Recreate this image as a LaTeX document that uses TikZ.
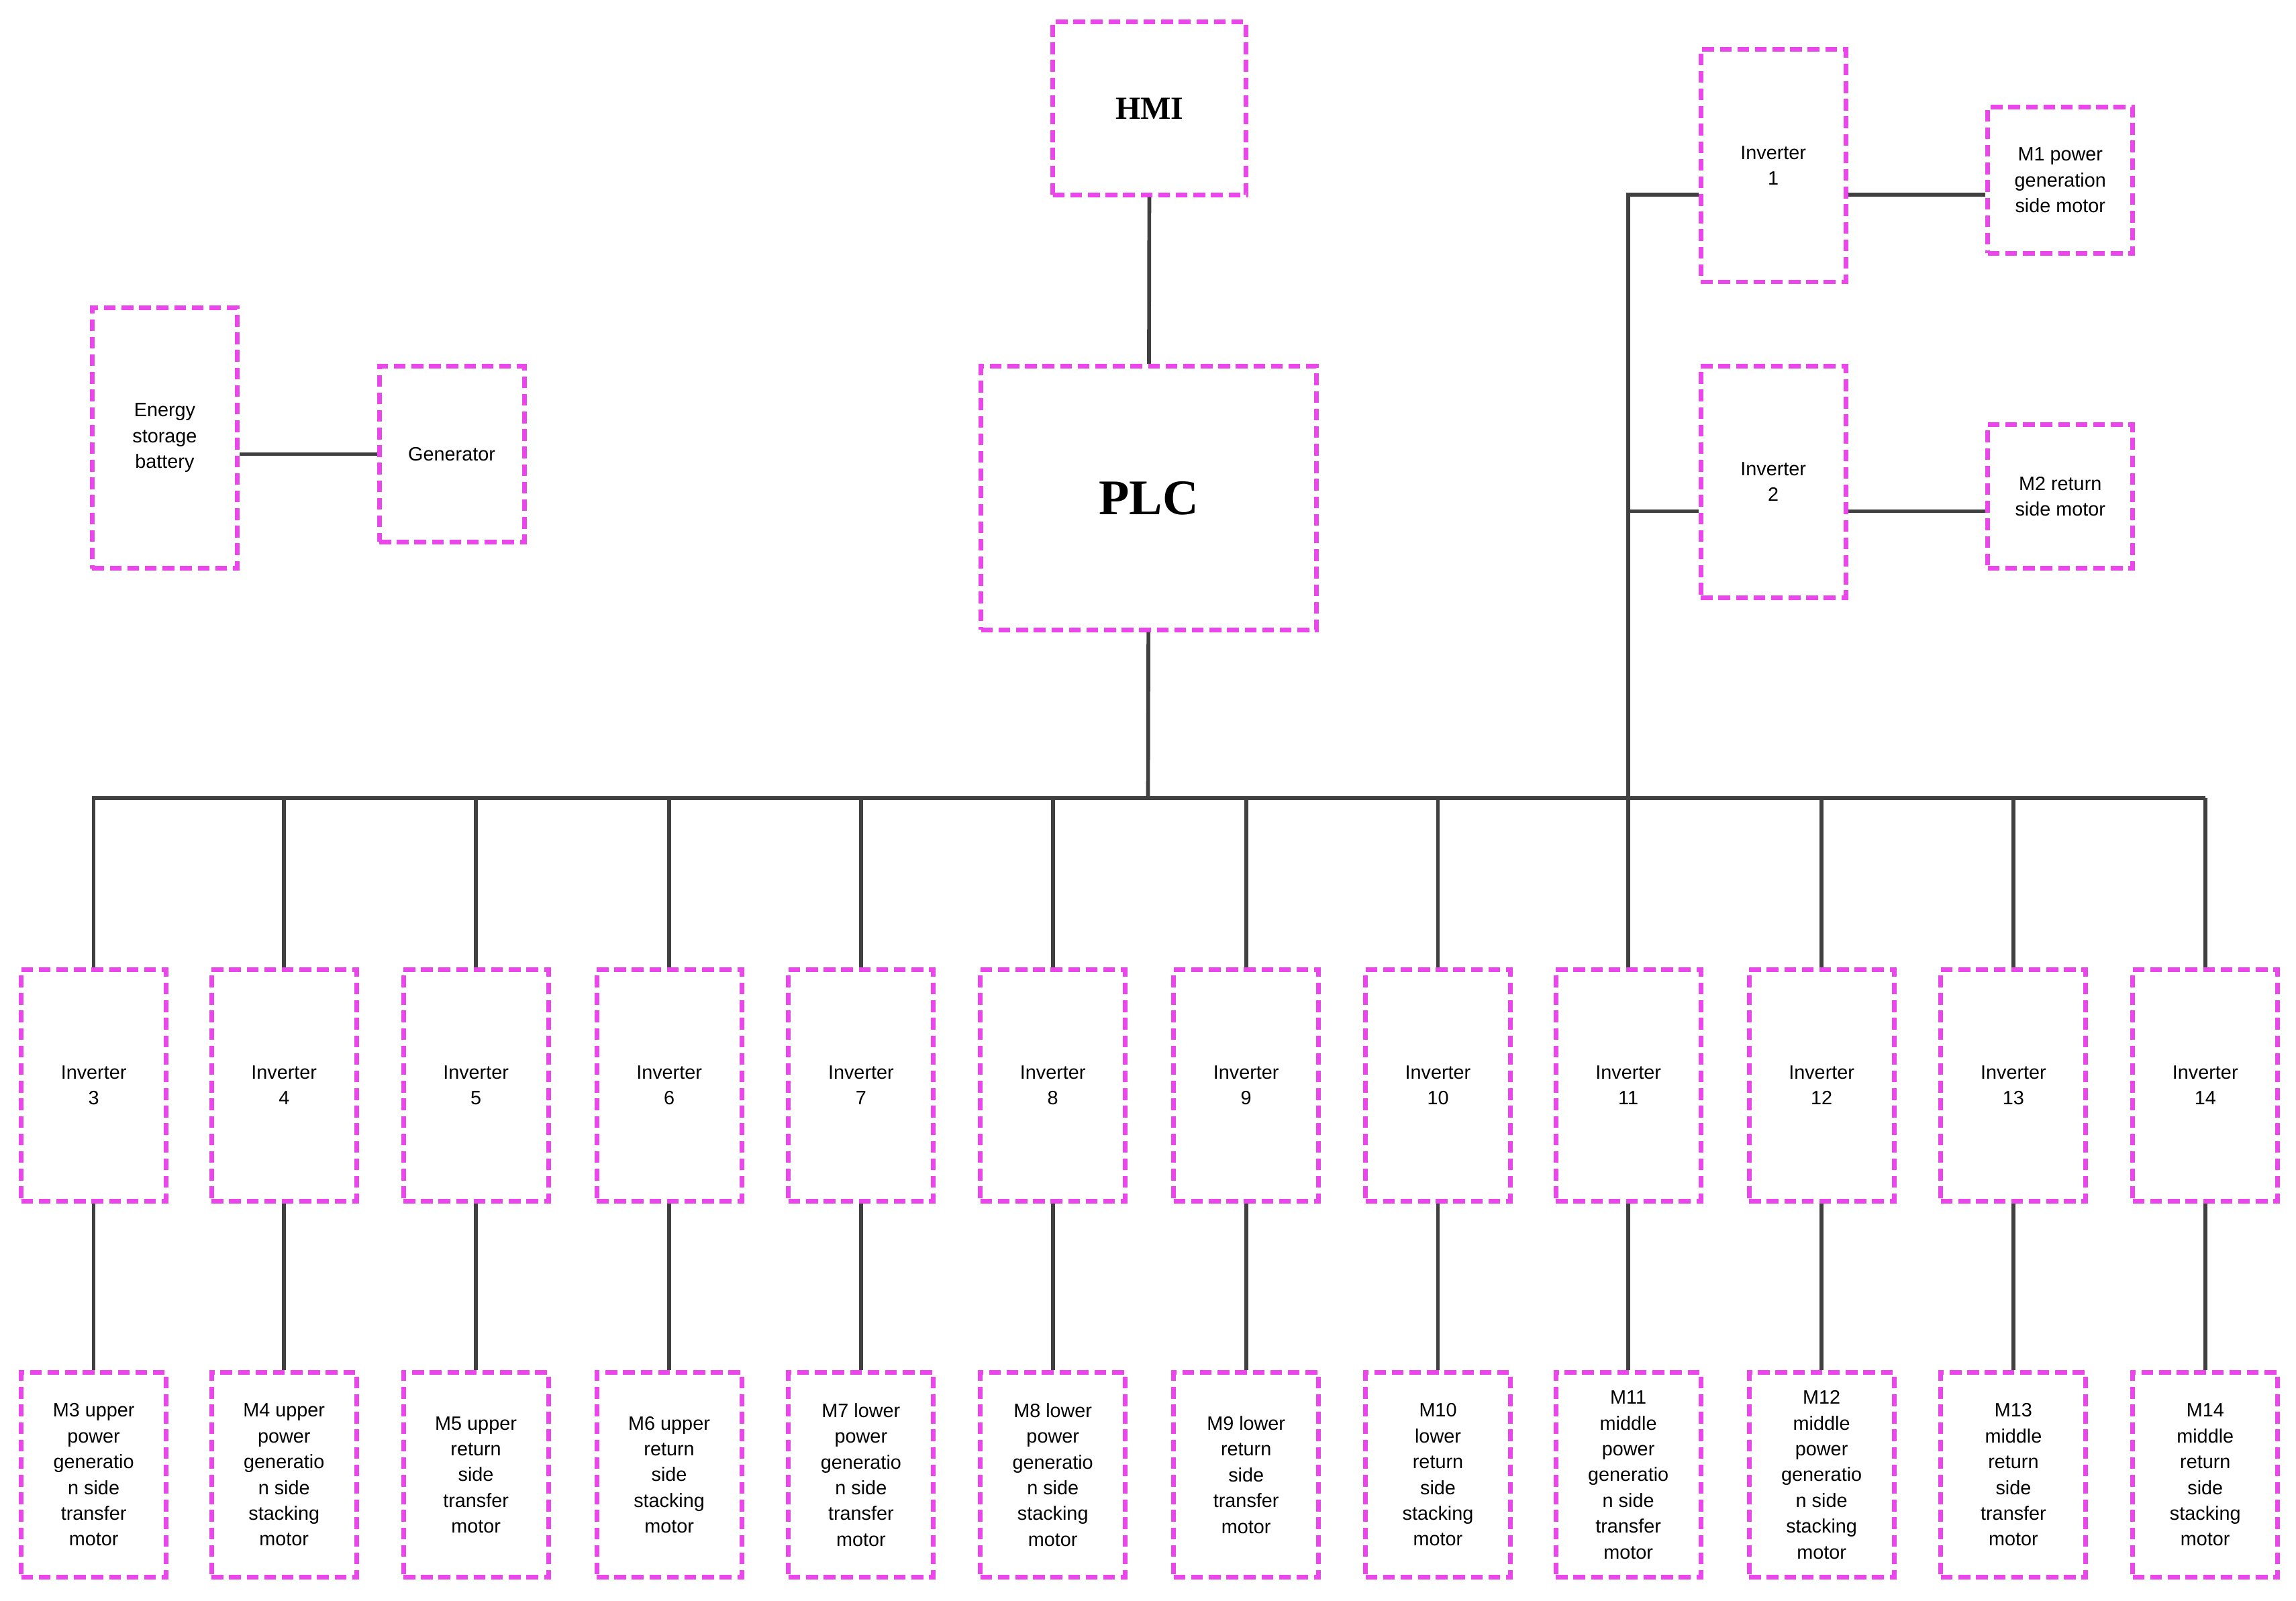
\documentclass[tikz,border=0pt]{standalone}
\usepackage{fontspec}
\setmainfont{Liberation Sans}
\newfontfamily\serifb{Liberation Serif}
\begin{document}
\begin{tikzpicture}[x=0.5pt,y=-0.5pt,
 bx/.style={draw={rgb,255:red,235;green,70;blue,235},line width=1.6pt,dash pattern=on 4pt off 2pt,minimum width=49.5pt,align=center,font=\fontsize{6.6}{8.8}\selectfont,inner sep=1pt},
 ln/.style={draw=black!75,line width=1.3pt}]
\useasboundingbox (0,0) rectangle (1568,1093);
\node[bx,minimum width=66pt,minimum height=59pt,font=\serifb\bfseries\fontsize{11}{12}\selectfont] (hmi) at (785,74) {HMI};
\node[bx,minimum width=114.5pt,minimum height=90pt,font=\serifb\bfseries\fontsize{17}{18}\selectfont] (plc) at (784.5,340) {PLC};
\node[bx,minimum height=89pt] (bat) at (112.5,299) {Energy\\storage\\battery};
\node[bx,minimum height=60pt] (gen) at (308.5,310) {Generator};
\node[bx,minimum height=79.5pt] (i1) at (1211,113) {Inverter\\1};
\node[bx,minimum height=79pt] (i2) at (1211,329) {Inverter\\2};
\node[bx,minimum height=50pt] (m1) at (1407,123) {M1 power\\generation\\side motor};
\node[bx,minimum height=49pt] (m2) at (1407,339) {M2 return\\side motor};
\draw[ln] (hmi) -- (plc);
\draw[ln] (bat.east|-0,310) -- (gen.west|-0,310);
\draw[ln] (i1.east|-0,133) -- (m1.west|-0,133);
\draw[ln] (i2.east|-0,349) -- (m2.west|-0,349);
\coordinate (busL) at (63,545);
\coordinate (busR) at (1506,545);
\coordinate (j) at (1112,545);
\coordinate (j1) at (1112,133);
\coordinate (j2) at (1112,349);
\coordinate (pb) at (784,545);
\draw[ln] (busL) -- (busR);
\draw[ln] (plc) -- (pb);
\draw[ln] (j) -- (j1) -- (i1.west|-j1);
\draw[ln] (j2) -- (i2.west|-j2);
\foreach \n/\c/\t in {3/64/{M3 upper\\power\\generatio\\n side\\transfer\\motor},
 4/194/{M4 upper\\power\\generatio\\n side\\stacking\\motor},
 5/325/{M5 upper\\return\\side\\transfer\\motor},
 6/457/{M6 upper\\return\\side\\stacking\\motor},
 7/588/{M7 lower\\power\\generatio\\n side\\transfer\\motor},
 8/719/{M8 lower\\power\\generatio\\n side\\stacking\\motor},
 9/851/{M9 lower\\return\\side\\transfer\\motor},
 10/982/{M10\\lower\\return\\side\\stacking\\motor},
 11/1112/{M11\\middle\\power\\generatio\\n side\\transfer\\motor},
 12/1244/{M12\\middle\\power\\generatio\\n side\\stacking\\motor},
 13/1375/{M13\\middle\\return\\side\\transfer\\motor},
 14/1506/{M14\\middle\\return\\side\\stacking\\motor}}{
 \node[bx,minimum height=79pt] (inv\n) at (\c,741) {Inverter\\\n};
 \node[bx,minimum height=70pt] (mot\n) at (\c,1007) {\t};
 \coordinate (b\n) at (\c,545);
 \draw[ln] (b\n) -- (inv\n);
 \draw[ln] (inv\n) -- (mot\n);
}
\end{tikzpicture}
\end{document}
